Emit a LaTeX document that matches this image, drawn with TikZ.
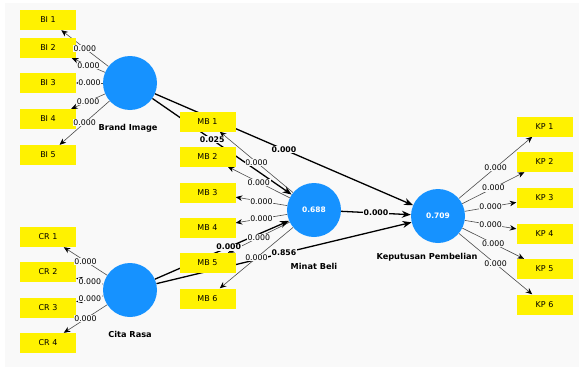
\documentclass[tikz,border=0pt]{standalone}
\usepackage{fontspec}
\setmainfont{DejaVu Sans}
\usetikzlibrary{arrows.meta}
\pgfdeclarelayer{back}
\pgfdeclarelayer{edges}
\pgfsetlayers{back,edges,main}
\definecolor{bgc}{HTML}{F9F9F9}
\definecolor{lvblue}{RGB}{22,146,255}
\tikzset{
  lv/.style={circle, fill=lvblue, minimum size=54pt, inner sep=0pt, text=white, font=\bfseries\fontsize{7.5}{9}\selectfont},
  ind/.style={rectangle, fill=yellow, minimum width=56pt, minimum height=20pt, inner sep=0pt, font=\fontsize{8}{9}\selectfont},
  lvname/.style={font=\bfseries\fontsize{8.2}{10}\selectfont, inner sep=0pt},
  load/.style={draw=black!70, line width=0.6pt, -{Stealth[length=6.5pt,width=5.5pt,black]}},
  struct/.style={draw=black, line width=1.3pt, -{Stealth[length=9pt,width=7pt,black]}},
  loadlab/.style={fill=bgc, inner sep=0.6pt, font=\fontsize{7.8}{9}\selectfont},
  structlab/.style={fill=bgc, inner sep=0.6pt, font=\bfseries\fontsize{7.8}{9}\selectfont},
}
\begin{document}
\begin{tikzpicture}[x=1pt,y=-1pt]
\useasboundingbox (0,0) rectangle (579,367);
\begin{pgfonlayer}{back}
\fill[white] (0,0) rectangle (579,367);
\fill[bgc] (5,3) rectangle (579,367);
\end{pgfonlayer}
% latent variables
\node[lv] (BI) at (130,83) {};
\node[lv] (CR) at (130,290) {};
\node[lv] (MB) at (314,210) {0.688};
\node[lv] (KP) at (438,216) {0.709};
\node[lvname] (BIn) at (128,128) {Brand Image};
\node[lvname] (CRn) at (130,334) {Cita Rasa};
\node[lvname] (MBn) at (314,266) {Minat Beli};
\node[lvname] (KPn) at (427,257) {Keputusan Pembelian};
% indicators
\node[ind] (BI1) at (48,20) {BI 1};
\node[ind] (BI2) at (48,48) {BI 2};
\node[ind] (BI3) at (48,83) {BI 3};
\node[ind] (BI4) at (48,119) {BI 4};
\node[ind] (BI5) at (48,155) {BI 5};
\node[ind] (CR1) at (48,237) {CR 1};
\node[ind] (CR2) at (48,272) {CR 2};
\node[ind] (CR3) at (48,308) {CR 3};
\node[ind] (CR4) at (48,343) {CR 4};
\begin{scope}[every node/.append style={minimum width=55pt, minimum height=19pt}]
\node[ind] (MB1) at (207.5,121.5) {MB 1};
\node[ind] (MB2) at (207.5,156.5) {MB 2};
\node[ind] (MB3) at (207.5,192.5) {MB 3};
\node[ind] (MB4) at (207.5,227.5) {MB 4};
\node[ind] (MB5) at (207.5,263) {MB 5};
\node[ind] (MB6) at (207.5,298.5) {MB 6};
\node[ind] (KP1) at (544.5,126.5) {KP 1};
\node[ind] (KP2) at (544.5,162) {KP 2};
\node[ind] (KP3) at (544.5,197.5) {KP 3};
\node[ind] (KP4) at (544.5,233.5) {KP 4};
\node[ind] (KP5) at (544.5,269) {KP 5};
\node[ind] (KP6) at (544.5,304.5) {KP 6};
\end{scope}
% connectors
\begin{pgfonlayer}{edges}
\foreach \i in {1,...,5} {\draw[load] (BI) -- (BI\i);}
\foreach \i in {1,...,4} {\draw[load] (CR) -- (CR\i);}
\foreach \i in {1,...,6} {\draw[load] (MB) -- (MB\i);}
\foreach \i in {1,...,6} {\draw[load] (KP) -- (KP\i);}
\draw[struct] (BI) -- (MB);
\draw[struct] (BI) -- (KP);
\draw[struct] (CR) -- (MB);
\draw[struct] (CR) -- (KP);
\draw[struct] (MB) -- (KP);
\end{pgfonlayer}
% labels
\foreach \i in {1,...,5} {\path (BI) -- node[loadlab] {0.000} (BI\i);}
\foreach \i in {1,...,4} {\path (CR) -- node[loadlab] {0.000} (CR\i);}
\foreach \i in {1,...,6} {\path (MB) -- node[loadlab] {0.000} (MB\i);}
\foreach \i in {1,...,6} {\path (KP) -- node[loadlab] {0.000} (KP\i);}
\path (BI) -- node[structlab, pos=0.43] {0.025} (MB);
\path (BI) -- node[structlab] {0.000} (KP);
\path (CR) -- node[structlab, pos=0.55] {0.000} (MB);
\path (CR) -- node[structlab] {0.856} (KP);
\path (MB) -- node[structlab] {0.000} (KP);
\end{tikzpicture}
\end{document}
